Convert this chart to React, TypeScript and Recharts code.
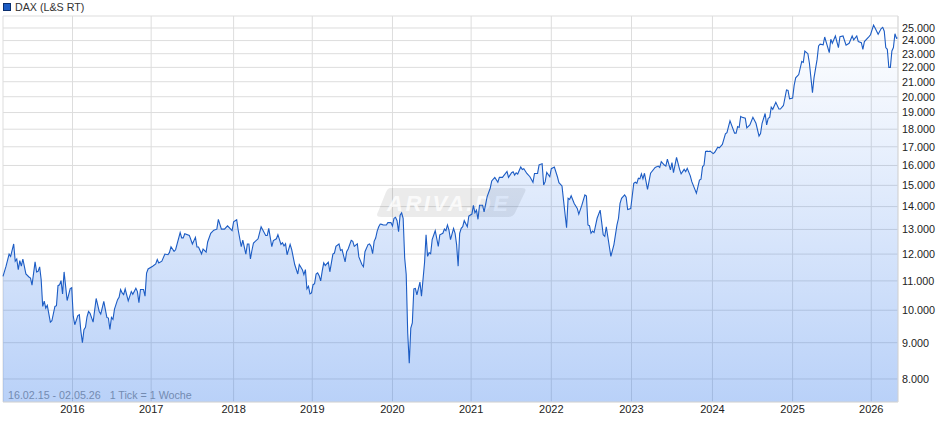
import React from "react";
import { ComposedChart, Area, Line, XAxis, YAxis, CartesianGrid } from "recharts";

// weeks since 16.02.15 (1 tick = 1 week), only the turning points
const weeks = [
  0, 2, 4, 5, 7, 8, 9, 10, 11, 12, 13, 15, 17, 18, 19, 21, 22, 23, 24, 25, 26, 27, 28, 29, 31, 32, 34, 35, 36, 37, 38, 39,
  40, 42, 44, 45, 46, 47, 49, 50, 51, 52, 53, 54, 55, 56, 57, 59, 61, 63, 64, 66, 68, 69, 70, 71, 72, 73, 75, 76, 77, 78,
  79, 80, 82, 84, 85, 87, 88, 89, 90, 92, 93, 94, 95, 98, 100, 101, 102, 104, 106, 108, 109, 110, 112, 113, 116, 117, 118,
  119, 122, 124, 126, 127, 128, 130, 131, 133, 134, 136, 138, 140, 141, 143, 145, 147, 150, 151, 153, 154, 156, 157, 159,
  160, 161, 162, 163, 164, 167, 169, 172, 173, 174, 176, 177, 179, 180, 182, 183, 184, 185, 186, 188, 189, 191, 193, 194,
  196, 197, 198, 199, 200, 201, 202, 203, 204, 205, 206, 207, 208, 209, 210, 211, 213, 214, 216, 217, 218, 220, 221, 222,
  224, 225, 226, 228, 229, 230, 232, 233, 235, 236, 237, 239, 240, 241, 242, 243, 244, 245, 246, 247, 248, 249, 251, 252,
  254, 255, 256, 257, 258, 259, 260, 261, 262, 263, 264, 265, 266, 267, 268, 269, 270, 271, 273, 274, 276, 277, 278, 279,
  280, 281, 283, 285, 286, 288, 289, 290, 291, 292, 293, 295, 296, 297, 298, 299, 300, 301, 302, 304, 305, 307, 308, 309,
  310, 311, 312, 314, 315, 317, 319, 320, 322, 324, 325, 327, 330, 331, 333, 334, 335, 336, 337, 339, 340, 341, 343, 345,
  347, 348, 350, 351, 353, 354, 355, 356, 358, 359, 361, 363, 364, 366, 367, 369, 370, 371, 372, 374, 376, 377, 379, 381,
  382, 383, 384, 385, 386, 387, 389, 391, 393, 394, 395, 398, 400, 402, 403, 404, 405, 407, 408, 409, 411, 413, 414, 415,
  416, 417, 418, 419, 420, 422, 424, 427, 429, 430, 431, 433, 434, 435, 437, 438, 439, 441, 443, 444, 446, 447, 448, 450,
  451, 454, 456, 457, 458, 459, 460, 461, 462, 463, 465, 466, 468, 469, 471, 473, 474, 476, 479, 480, 481, 482, 483, 484,
  486, 487, 489, 491, 493, 495, 496, 497, 499, 500, 501, 502, 503, 504, 506, 508, 509, 511, 513, 514, 515, 517, 518, 519,
  521, 523, 524, 525, 527, 528, 530, 531, 533, 534, 535, 537, 538, 541, 542, 543, 545, 547, 548, 550, 552, 554, 556, 557,
  559, 560, 562, 563, 564, 567, 568, 570, 571, 573, 575, 576, 577, 578, 579, 580, 581, 582, 583, 584, 585, 586,
];

const closes = [
  11160, 11540, 12000, 11910, 12400, 11725, 11810, 11410, 11750, 11540, 11810, 11250, 11140, 11100, 10850, 11700, 11325,
  11350, 11510, 11040, 10125, 10300, 10070, 10160, 9620, 9665, 10125, 10150, 10830, 10860, 11010, 10545, 11325, 10320,
  10730, 10760, 9810, 9540, 9830, 9860, 9340, 9000, 9385, 9460, 9790, 9960, 9900, 9620, 10390, 9960, 9875, 10295, 9770,
  9750, 9395, 9770, 9710, 10035, 10350, 10430, 10695, 10580, 10520, 10720, 10310, 10625, 10530, 10740, 10625, 10250,
  10695, 10695, 10470, 11285, 11435, 11535, 11625, 11790, 11660, 11725, 12000, 11975, 12065, 12290, 12105, 12170, 12870,
  12650, 12650, 12820, 12750, 12400, 12670, 12280, 12280, 12010, 12200, 12080, 12480, 12840, 12970, 13010, 13430, 13015,
  13015, 13155, 12950, 13330, 13415, 12975, 12290, 12560, 12000, 12400, 12400, 11810, 12150, 12440, 12610, 13110, 12745,
  12745, 13045, 12290, 12540, 12610, 12780, 12385, 12450, 12320, 12410, 11975, 12385, 12185, 11600, 11250, 11600, 11410,
  11225, 11410, 10725, 10810, 10545, 10580, 10865, 10900, 11250, 11290, 11190, 11000, 11357, 11665, 11565, 11690, 11330,
  12000, 12040, 12305, 12400, 12145, 12175, 11700, 12095, 12200, 12545, 12505, 12305, 12410, 11890, 11600, 11515, 12095,
  12375, 12400, 12305, 12015, 12505, 12640, 12930, 13115, 13230, 13215, 13190, 13190, 13290, 13290, 13145, 13480, 13520,
  13375, 12905, 13620, 13720, 13480, 11850, 11235, 9280, 8423, 9440, 9595, 10720, 10735, 10515, 10955, 10470, 11665,
  12775, 11910, 12055, 12010, 12575, 12945, 12305, 12775, 12840, 13015, 12945, 13190, 12970, 12575, 13045, 12840, 12375,
  11540, 12840, 13045, 13115, 13375, 13115, 13580, 13665, 14060, 13720, 13840, 13435, 14065, 14065, 13765, 14460, 14860,
  15215, 15395, 15150, 15395, 15395, 15690, 15395, 15625, 15675, 15510, 15625, 15560, 15920, 15790, 15835, 15590, 15425,
  15150, 15590, 15590, 16035, 16090, 15015, 15180, 15640, 15425, 15835, 15920, 15425, 15130, 14970, 14300, 13070, 14380,
  14330, 14505, 14145, 13915, 13665, 14065, 14540, 14490, 13190, 13160, 12840, 12930, 12870, 13480, 13840, 12775, 12710,
  13115, 11910, 12375, 13190, 13480, 14145, 14380, 14540, 14430, 13870, 13915, 15100, 15150, 15100, 15350, 15320, 15570,
  15320, 15600, 14810, 15600, 15900, 15970, 15900, 16200, 16020, 15970, 16330, 15770, 16145, 15630, 16425, 15800, 15570,
  15800, 15680, 15850, 15470, 15180, 14620, 15260, 15300, 15930, 16020, 16740, 16760, 16740, 16760, 16630, 16700, 16980,
  16945, 17130, 17730, 17800, 18500, 17770, 17770, 18150, 18100, 18760, 18705, 18650, 18080, 18250, 18705, 18350, 17600,
  17745, 18350, 18940, 18250, 18650, 18705, 19330, 19200, 19640, 19220, 19220, 19440, 20450, 20420, 19870, 19910, 20755,
  21265, 21490, 22430, 22360, 23200, 23000, 22300, 20265, 21265, 22560, 23590, 23720, 23665, 24280, 23075, 24100, 23790,
  24360, 23460, 24310, 24360, 23640, 23790, 24360, 24050, 24360, 23920, 23840, 23330, 23920, 24310, 24460, 25230, 25000,
  24490, 24950, 25050, 24740, 23460, 23330, 22000, 22000, 23200, 23460, 24540, 24180, 24230,
];

const yearWeeks = [45.5, 97, 151, 202.5, 255, 306.5, 359, 411.5, 464.5, 517, 568.5];
const yearLabels = ["2016", "2017", "2018", "2019", "2020", "2021", "2022", "2023", "2024", "2025", "2026"];
const priceTicks = [
  8000, 9000, 10000, 11000, 12000, 13000, 14000, 15000, 16000, 17000, 18000, 19000, 20000, 21000, 22000, 23000, 24000,
  25000,
];

const data = weeks.map((week, i) => ({ week, close: closes[i] }));

const formatPrice = (value: number) => `${Math.floor(value / 1000)}.${String(value % 1000).padStart(3, "0")}`;
const formatYear = (value: number) => yearLabels[yearWeeks.indexOf(value)];

export default function App() {
  return (
    <div style={{ position: "absolute", left: 0, top: 0, width: 940, height: 435 }}>
      <div
        style={{
          position: "absolute",
          left: 3,
          top: 0,
          height: 13,
          display: "flex",
          alignItems: "center",
          fontFamily: "Liberation Sans",
          fontSize: 10.7,
          color: "#333",
        }}
      >
        <span
          style={{
            display: "inline-block",
            width: 6,
            height: 6,
            marginRight: 4,
            background: "#1c5cc4",
            border: "1px solid #0b2f6e",
          }}
        />
        DAX (L&amp;S RT)
      </div>
      <ComposedChart width={940} height={435} data={data} margin={{ top: 16, right: 0, bottom: 0, left: 3 }}>
        <defs>
          <linearGradient id="fillDax" x1="0" y1="0" x2="0" y2="1">
            <stop offset="0%" stopColor="#1666e8" stopOpacity={0} />
            <stop offset="100%" stopColor="#1666e8" stopOpacity={0.3} />
          </linearGradient>
        </defs>
        <CartesianGrid stroke="#dddddd" strokeWidth={1} />
        <XAxis
          dataKey="week"
          type="number"
          domain={[0, 586]}
          ticks={yearWeeks}
          tickFormatter={formatYear}
          height={33}
          interval={0}
          axisLine={{ stroke: "#dddddd" }}
          tickLine={false}
          tickSize={0}
          tickMargin={3}
          tick={{ fill: "#222", fontSize: 11, fontFamily: "Liberation Sans" }}
        />
        <YAxis
          orientation="right"
          scale="log"
          type="number"
          domain={[7424, 25993]}
          ticks={priceTicks}
          tickFormatter={formatPrice}
          width={42}
          interval={0}
          allowDataOverflow
          axisLine={{ stroke: "#dddddd" }}
          tickLine={false}
          tickSize={0}
          tickMargin={4}
          tick={{ fill: "#222", fontSize: 10.8, fontFamily: "Liberation Sans" }}
        />
        <path
          d="M390 188 L522 188 Q527 188 525 192 L515 213 Q513 217 508 217 L381 217 Q375 217 378 212 L386 192 Q388 188 390 188 Z"
          fill="#000000"
          fillOpacity={0.08}
        />
        <text
          x={387}
          y={211}
          fill="#ffffff"
          fillOpacity={0.8}
          fontFamily="Liberation Sans"
          fontStyle="italic"
          fontWeight="bold"
          fontSize={22}
          letterSpacing={2.5}
        >
          ARIVA.DE
        </text>
        <Area
          dataKey="close"
          type="linear"
          stroke="none"
          fill="url(#fillDax)"
          fillOpacity={1}
          baseValue={7424}
          isAnimationActive={false}
        />
        <Line dataKey="close" type="linear" stroke="#1c5cc4" strokeWidth={1.1} dot={false} isAnimationActive={false} />
        <text x={8} y={399} fill="#9a9a9a" fontFamily="Liberation Sans" fontSize={10.7}>
          16.02.15 - 02.05.26{"\u00a0\u00a0\u00a0"}1 Tick = 1 Woche
        </text>
      </ComposedChart>
    </div>
  );
}
